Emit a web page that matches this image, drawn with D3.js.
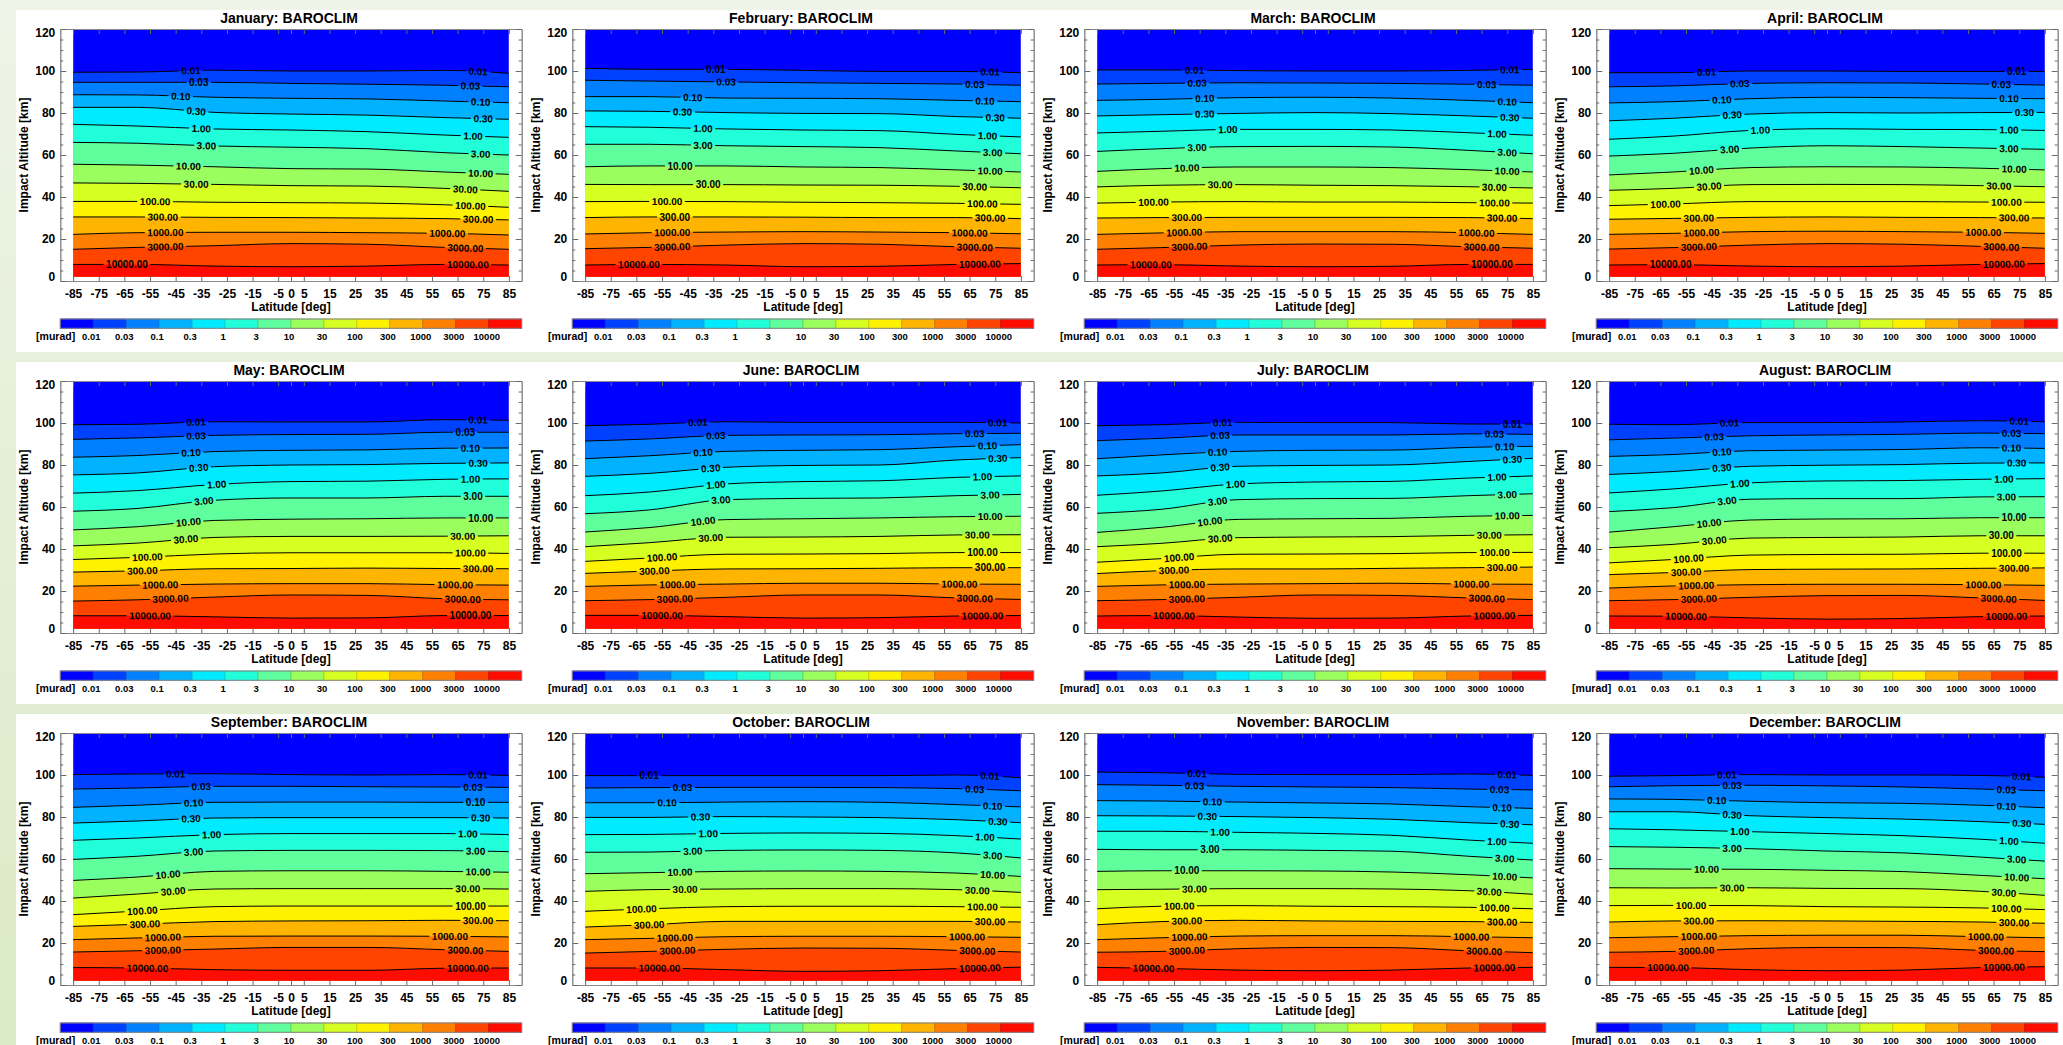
<!DOCTYPE html>
<html><head><meta charset="utf-8">
<script src="https://cdn.jsdelivr.net/npm/d3@7/dist/d3.min.js"></script>
<style>
html,body{margin:0;padding:0;}
body{width:2063px;height:1045px;overflow:hidden;background:linear-gradient(#eef4e7,#dbeac6);}
svg{display:block;font-family:"Liberation Sans",Arial,Helvetica,sans-serif;}
</style></head><body>
<svg id="chart" width="2063" height="1045"></svg>
<script>
// ---------------- data ----------------
const monthNames = ["January","February","March","April","May","June","July","August","September","October","November","December"];
const levelLabels = ["0.01","0.03","0.10","0.30","1.00","3.00","10.00","30.00","100.00","300.00","1000.00","3000.00","10000.00"];
const colorbarLabels = ["0.01","0.03","0.1","0.3","1","3","10","30","100","300","1000","3000","10000"];
const bandColors = ["#0000ff","#0040ff","#0080ff","#00b2ff","#00ebff","#20ffda","#5eff9c","#9aff5e","#d6ff22","#fff200","#ffb400","#ff8000","#ff4400","#ff0c00"];
const nodeLats = [-85,-60,-30,0,30,60,85];
const latTicks = [-85,-75,-65,-55,-45,-35,-25,-15,-5,0,5,15,25,35,45,55,65,75,85];
const latTickLabels = ["-85","-75","-65","-55","-45","-35","-25","-15","-5","0","5","15","25","35","45","55","65","75","85"];
const altTicks = [0,20,40,60,80,100,120];
const altTickLabels = ["0","20","40","60","80","100","120"];
const altMinorTicks = [5,10,15,25,30,35,45,50,55,65,70,75,85,90,95,105,110,115];

// contour altitudes [km] of each level (rows) at nodeLats (columns)
const altJan = [[99.4,99.5,100.4,100,100,100.3,98.9],[94.6,94.6,94.6,94.1,93.7,93.2,92.5],[88.7,88.6,87.5,87.0,86.7,85.7,84.9],[82.7,82.7,80.3,79.5,79.0,77.8,77.0],[74.6,73.8,72.4,71.9,71.1,69.5,68.4],[66.0,65.6,64.3,63.7,63.0,61.1,60.0],[55.6,55.2,54.4,53.5,53.3,51.9,50.8],[46.7,46.5,46.0,45.4,45.2,44.1,42.7],[37.9,37.9,37.5,37.3,37.1,36.3,35.1],[30.5,30.5,30.3,30.2,30.0,29.7,29.1],[22.2,23.0,23.2,23.2,23.0,22.7,21.9],[15.1,16.0,16.8,17.8,17.5,16.0,15.1],[7.9,7.9,7.1,6.8,7.1,7.9,7.6]];
const altFeb = [[101.3,100.8,100.8,100.3,99.8,99.8,99.2],[95.6,95.2,94.8,94.4,94.1,93.8,93.2],[87.8,87.8,87.1,87.0,86.8,86.0,85.4],[81.0,80.8,80.2,79.8,79.7,78.3,77.5],[73.5,73.2,72.4,71.9,71.6,69.8,68.6],[65.1,65.1,64.4,64.0,63.5,61.9,60.6],[54.4,54.8,54.8,54.3,54.0,52.9,51.9],[46.0,45.9,45.9,45.7,45.6,45.1,44.4],[37.8,37.9,37.8,37.5,37.3,37.0,36.5],[30.2,30.5,30.5,30.4,30.2,30.2,29.7],[22.4,23.0,23.3,23.5,23.3,23.0,22.5],[15.4,16.0,17.1,17.8,17.5,16.3,15.6],[7.6,7.9,7.6,6.8,7.0,7.9,8.3]];
const altMar = [[100.5,100.5,100.2,100.0,100.0,100.3,100.8],[93.8,94.1,94.4,94.3,94.1,93.7,93.2],[86.0,86.5,87.3,87.5,87.1,86.0,84.9],[78.6,79.2,79.8,80.2,79.7,78.6,77.5],[70.5,71.3,72.2,72.2,71.9,70.6,69.4],[61.7,63.0,64.0,64.1,63.8,62.2,60.6],[52.2,53.5,54.3,54.3,54.0,53.0,51.9],[44.8,45.6,45.9,45.6,45.4,44.9,44.3],[37.1,37.6,37.8,37.6,37.6,37.3,37.1],[30.0,30.2,30.3,30.3,30.3,30.2,29.7],[22.2,22.9,23.5,23.5,23.5,23.0,22.2],[15.1,15.9,17.1,17.6,17.5,16.3,15.6],[7.6,7.8,7.1,6.8,7.0,7.9,7.9]];
const altApr = [[99.2,99.2,100.0,100.0,99.8,99.8,99.8],[92.5,92.9,94.1,94.4,94.3,93.8,93.3],[84.8,85.4,86.8,87.5,87.3,87.0,86.8],[76.3,77.5,79.5,80.2,80.0,80.2,80.3],[67.5,69.0,71.7,72.5,72.2,72.1,71.7],[59.5,60.8,63.3,64.4,64.0,63.3,62.7],[50.5,51.9,54.0,54.4,54.3,53.7,52.9],[43.2,44.1,45.9,46.0,45.9,45.4,44.9],[35.9,36.7,37.8,37.8,37.8,37.6,37.5],[29.4,29.8,30.3,30.5,30.3,30.2,30.0],[22.2,22.7,23.5,23.7,23.5,23.2,22.7],[15.2,15.9,17.1,17.8,17.5,16.5,15.6],[7.6,7.8,7.1,6.8,7.1,7.9,8.3]];
const altMay = [[99.2,99.4,100.6,100.5,100.5,101.6,101.3],[92.2,92.9,94.1,94.5,94.6,95.6,95.6],[83.7,84.5,86.4,87.0,87.2,88.0,88.1],[75.3,76.2,79.2,80.0,80.2,80.8,81.0],[66.6,67.8,70.7,72.1,72.3,73.2,73.4],[58.0,59.3,63.2,64.3,64.3,65.1,65.1],[49.1,50.6,53.6,54.2,54.4,54.8,54.8],[41.5,42.8,45.5,46.0,46.0,46.1,46.3],[35.0,36.0,37.6,38.2,38.2,38.2,37.9],[29.0,29.6,30.6,30.7,30.9,30.7,30.6],[22.3,22.8,23.3,23.5,23.5,23.0,22.8],[15.2,15.8,17.1,18.1,17.9,16.3,15.8],[8.2,8.2,7.7,7.1,7.2,8.3,8.3]];
const altJun = [[98.7,99.4,100.6,100.3,100.3,100.3,100.0],[91.4,92.4,94.1,94.3,94.4,94.9,95.1],[83.0,84.4,86.5,87.0,87.3,88.7,89.7],[74.6,76.0,78.9,79.8,80.0,82.4,83.5],[65.4,67.1,71.0,72.1,72.5,74.1,74.8],[56.8,58.6,63.5,64.1,64.3,65.4,66.0],[48.1,50.2,54.0,54.4,54.8,55.4,55.6],[41.1,43.0,45.6,45.7,46.0,46.7,46.8],[34.1,35.7,37.5,37.6,37.8,38.3,38.3],[28.4,29.5,30.5,30.6,30.8,31.1,31.1],[22.2,22.9,23.3,23.7,23.7,23.3,23.2],[15.4,15.9,17.0,18.1,18.1,16.7,16.0],[8.4,8.4,7.8,7.1,7.3,8.1,8.3]];
const altJul = [[98.7,99.2,100.3,100.2,100.2,99.5,99.5],[91.6,92.7,94.3,94.3,94.3,94.8,94.6],[83.0,84.8,86.5,87.0,87.1,88.4,88.9],[74.8,76.2,79.4,79.8,80.0,81.7,83.2],[65.6,67.6,71.0,71.9,72.2,73.8,74.8],[57.0,58.9,63.5,64.0,64.1,65.4,66.3],[47.9,50.3,54.1,54.4,54.6,55.6,56.0],[41.1,42.7,45.4,45.7,45.9,46.5,46.8],[33.7,35.4,37.5,37.6,37.8,38.3,38.4],[28.3,29.7,30.5,30.5,30.8,31.1,31.4],[22.2,22.9,23.3,23.5,23.7,23.3,23.2],[15.4,15.9,17.0,18.1,17.9,16.7,15.9],[8.1,8.3,7.6,7.0,7.1,8.1,8.4]];
const altAug = [[99.4,99.2,100.2,100.2,100.5,101.1,100.6],[92.0,92.8,93.9,94.3,94.6,95.2,94.9],[84.1,85.0,86.8,87.1,87.4,88.2,87.9],[75.5,76.9,79.4,79.9,80.2,80.9,81.0],[66.7,68.6,71.5,72.4,72.6,73.2,73.5],[57.8,59.7,63.7,64.0,64.0,64.8,64.9],[48.0,50.6,53.8,54.3,54.4,54.9,54.9],[40.6,42.2,45.2,45.5,45.7,46.3,46.3],[33.4,35.0,37.1,37.4,37.5,38.0,38.0],[27.8,28.8,30.2,30.4,30.5,30.8,31.0],[21.4,22.4,23.0,23.2,23.2,23.0,22.7],[15.4,15.9,17.0,17.8,17.9,16.7,15.5],[8.1,8.0,7.2,6.6,6.9,7.8,8.1]];
const altSep = [[100.2,100.5,100.6,100.2,100.0,100.2,99.8],[93.3,93.8,94.6,94.6,94.4,94.3,94.1],[84.6,85.6,87.0,87.1,87.1,87.0,87.0],[77.1,78.1,79.5,79.7,79.7,79.7,79.5],[68.9,70.0,71.6,72.1,72.1,72.1,71.6],[59.8,61.3,63.8,64.1,64.1,64.0,63.5],[49.8,51.4,54.1,54.4,54.4,54.1,53.7],[41.4,43.3,45.7,45.9,45.9,45.9,45.7],[33.5,35.2,37.3,37.6,37.6,37.6,37.6],[27.9,28.9,30.2,30.5,30.6,30.8,30.6],[21.6,22.4,23.2,23.3,23.3,23.2,22.9],[15.7,16.3,17.1,17.9,17.9,16.8,16.0],[8.3,8.1,7.3,7.0,7.0,8.0,8.1]];
const altOct = [[99.7,99.7,99.7,99.7,99.7,100.0,98.7],[93.8,94.0,94.1,94.1,94.0,93.5,92.5],[86.8,86.8,87.1,87.3,87.0,85.9,84.8],[79.8,79.8,80.2,80.0,79.7,78.7,77.3],[71.6,71.7,72.2,72.4,72.2,71.1,69.5],[63.2,63.3,64.1,64.3,64.1,62.9,60.5],[53.0,53.5,54.1,54.3,54.1,53.3,51.7],[44.6,45.4,45.7,45.9,45.9,45.4,44.1],[35.1,36.3,37.3,37.5,37.5,37.3,37.0],[27.6,28.7,30.3,30.3,30.3,30.3,30.0],[21.6,22.2,23.0,23.2,23.2,23.0,22.7],[15.2,16.0,17.0,17.6,17.5,16.5,15.7],[8.1,8.1,7.3,6.5,6.8,7.8,8.5]];
const altNov = [[101.4,101.1,100.3,100.2,100.2,100.5,99.8],[95.4,95.1,94.6,94.3,94.0,93.3,92.9],[87.8,87.6,87.1,86.7,86.2,84.9,84.1],[80.6,80.5,80.2,79.7,78.9,77.3,76.3],[73.2,73.2,72.7,72.2,71.3,69.0,67.5],[64.6,64.4,64.4,64.1,63.7,61.3,59.5],[54.1,54.4,54.4,54.3,53.8,52.5,51.0],[45.4,45.6,45.9,45.9,45.7,44.9,43.2],[36.3,37.5,37.8,37.5,37.3,37.0,36.3],[28.7,30.2,30.8,30.5,30.3,30.2,29.8],[21.6,22.5,23.3,23.5,23.5,23.0,22.5],[15.6,16.0,17.3,17.9,17.8,16.3,15.4],[8.4,7.9,7.1,6.8,7.1,8.1,8.4]];
const altDec = [[99.4,99.7,100.2,100.0,100.0,99.8,98.9],[94.4,94.9,95.1,94.8,94.3,93.3,92.5],[88.6,88.4,87.5,86.8,86.5,85.6,84.4],[82.5,82.5,80.6,79.7,79.0,77.8,76.5],[74.4,73.9,73.0,72.1,71.1,69.4,67.5],[65.9,65.6,64.9,63.8,62.9,60.9,59.0],[55.4,55.2,55.1,54.6,54.0,52.2,50.6],[46.3,46.2,46.3,46.0,45.9,44.6,42.7],[37.8,37.9,37.8,37.3,37.1,36.7,35.9],[30.0,30.5,30.6,30.5,30.3,30.0,29.4],[22.5,23.0,23.5,23.7,23.7,23.0,22.5],[15.6,16.0,17.3,17.9,17.8,16.5,15.9],[8.4,8.3,7.3,6.8,7.1,8.3,8.7]];

// latitudes of the two contour labels on each level
const labLeftJan = [-39,-36,-43,-37,-35,-33,-40,-37,-53,-50,-49,-49,-64];
const labRightJan = [73,70,74,75,71,74,74,68,70,73,61,68,69];
const labLeftFeb = [-34,-30,-43,-47,-39,-39,-48,-37,-53,-50,-51,-51,-64];
const labRightFeb = [73,67,71,75,72,74,73,67,70,73,65,67,69];
const labLeftMar = [-47,-46,-43,-43,-34,-46,-50,-37,-63,-50,-51,-49,-64];
const labRightMar = [76,67,75,76,71,75,75,70,70,73,63,65,69];
const labLeftApr = [-47,-34,-41,-37,-26,-38,-49,-46,-63,-50,-49,-50,-61];
const labRightApr = [74,68,71,77,71,71,73,67,70,73,61,68,69];
const labLeftMay = [-37,-37,-39,-36,-29,-34,-40,-41,-56,-58,-51,-47,-55];
const labRightMay = [73,68,70,73,70,71,74,67,70,73,64,67,70];
const labLeftJun = [-41,-34,-39,-36,-34,-32,-39,-36,-55,-58,-49,-50,-55];
const labRightJun = [76,67,72,76,70,73,73,68,70,73,61,67,70];
const labLeftJul = [-36,-37,-38,-37,-31,-38,-41,-37,-53,-55,-50,-50,-55];
const labRightJul = [77,70,74,77,71,75,75,68,70,73,61,67,70];
const labLeftAug = [-38,-44,-41,-41,-34,-39,-46,-44,-54,-55,-51,-50,-55];
const labRightAug = [75,72,72,74,69,70,73,68,70,73,61,67,70];
const labLeftSep = [-45,-35,-38,-39,-31,-38,-48,-46,-58,-57,-50,-50,-56];
const labRightSep = [73,71,72,74,69,72,73,69,70,73,62,68,69];
const labLeftOct = [-60,-47,-53,-40,-37,-43,-48,-46,-63,-60,-50,-49,-56];
const labRightOct = [73,67,74,76,71,74,74,68,70,73,64,68,69];
const labLeftNov = [-46,-47,-40,-42,-37,-41,-50,-47,-53,-50,-49,-50,-63];
const labRightNov = [75,72,73,76,71,74,74,68,70,73,61,66,70];
const labLeftDec = [-39,-37,-43,-37,-34,-37,-47,-37,-53,-50,-50,-51,-62];
const labRightDec = [76,70,70,76,71,74,74,69,70,73,62,66,69];

const monthAlts = [altJan,altFeb,altMar,altApr,altMay,altJun,altJul,altAug,altSep,altOct,altNov,altDec];
const monthLabLeft = [labLeftJan,labLeftFeb,labLeftMar,labLeftApr,labLeftMay,labLeftJun,labLeftJul,labLeftAug,labLeftSep,labLeftOct,labLeftNov,labLeftDec];
const monthLabRight = [labRightJan,labRightFeb,labRightMar,labRightApr,labRightMay,labRightJun,labRightJul,labRightAug,labRightSep,labRightOct,labRightNov,labRightDec];

// ---------------- drawing ----------------
const svg = d3.select('#chart');
const defs = svg.append('defs');
const colStep = 512, rowStep = 352;
const x = d3.scaleLinear().domain([-90, 90]).range([60.3, 521.7]);
const y = d3.scaleLinear().domain([0, 120]).range([281, 29]);
const cb = d3.scaleLinear().domain([0, bandColors.length]).range([60.3, 521.7]);
const dataLat = [-85, 85], dataAlt = [2, 120];
const FONT = '"Liberation Sans",Arial,Helvetica,sans-serif';
const latFmt = d => latTickLabels[latTicks.indexOf(d)];
const altFmt = d => altTickLabels[altTicks.indexOf(d)];

[0,1,2].forEach(r => {
  svg.append('rect').attr('x', 16).attr('y', 10 + r*rowStep).attr('width', 2063-16).attr('height', 342).attr('fill', '#ffffff');
});

const lineGen = d3.line().x(d => x(d[0])).y(d => y(d[1])).curve(d3.curveMonotoneX);
const areaGen = d3.area().x(d => x(d[0])).y0(y(0)).y1(d => y(d[1])).curve(d3.curveMonotoneX);

monthNames.forEach((name, i) => {
  const r = Math.floor(i/4), c = i % 4;
  const g = svg.append('g').attr('transform', `translate(${c*colStep},${r*rowStep})`);
  const clipId = 'clip' + i;
  defs.append('clipPath').attr('id', clipId).append('rect')
    .attr('x', x(dataLat[0])).attr('y', y(dataAlt[1]))
    .attr('width', x(dataLat[1]) - x(dataLat[0])).attr('height', y(dataAlt[0]) - y(dataAlt[1]));
  const plot = g.append('g').attr('clip-path', `url(#${clipId})`);
  plot.append('rect').attr('x', x(dataLat[0])).attr('y', y(dataAlt[1]))
    .attr('width', x(dataLat[1]) - x(dataLat[0])).attr('height', y(dataAlt[0]) - y(dataAlt[1]))
    .attr('fill', bandColors[0]);
  const alts = monthAlts[i];
  alts.forEach((row, k) => {
    const pts = nodeLats.map((lat, j) => [lat, row[j]]);
    plot.append('path').attr('d', areaGen(pts)).attr('fill', bandColors[k+1]);
  });
  const maskId = 'mask' + i;
  const mask = defs.append('mask').attr('id', maskId).attr('maskUnits', 'userSpaceOnUse')
    .attr('x', 0).attr('y', 0).attr('width', 540).attr('height', 320);
  mask.append('rect').attr('x', 0).attr('y', 0).attr('width', 540).attr('height', 320).attr('fill', '#fff');
  const lineG = plot.append('g').attr('mask', `url(#${maskId})`);
  const labG = plot.append('g');
  alts.forEach((row, k) => {
    const pts = nodeLats.map((lat, j) => [lat, row[j]]);
    const p = lineG.append('path').attr('d', lineGen(pts)).attr('fill', 'none')
      .attr('stroke', '#000').attr('stroke-width', 1);
    const node = p.node();
    const total = node.getTotalLength();
    [monthLabLeft[i][k], monthLabRight[i][k]].forEach(lat => {
      const px = x(lat);
      let lo = 0, hi = total;
      for (let it = 0; it < 30; it++) {
        const mid = (lo + hi) / 2;
        if (node.getPointAtLength(mid).x < px) lo = mid; else hi = mid;
      }
      const pt = node.getPointAtLength(lo);
      const a = node.getPointAtLength(Math.max(0, lo - 8));
      const b = node.getPointAtLength(Math.min(total, lo + 8));
      const ang = Math.atan2(b.y - a.y, b.x - a.x) * 180 / Math.PI;
      const tr = `translate(${pt.x},${pt.y}) rotate(${ang})`;
      const t = labG.append('text').attr('transform', tr).attr('text-anchor', 'middle').attr('dy', '0.36em')
        .style('font-family', FONT).style('font-size', '10px').style('font-weight', 'bold').attr('fill', '#000')
        .text(levelLabels[k]);
      const tw = t.node().getComputedTextLength();
      mask.append('rect').attr('transform', tr).attr('x', -tw/2 - 2.5).attr('y', -4).attr('width', tw + 5).attr('height', 8).attr('fill', '#000');
    });
  });

  // axes
  const styleAxis = sel => {
    sel.attr('font-family', FONT).attr('font-size', 12).attr('font-weight', 'bold');
    sel.selectAll('.domain').attr('stroke', '#8a8a8a');
    sel.selectAll('.tick line').attr('stroke', '#6a6a6a');
    sel.selectAll('.tick text').attr('fill', '#000');
  };
  g.append('g').attr('transform', `translate(0,${y(0)})`)
    .call(d3.axisBottom(x).tickValues(latTicks).tickSize(-5).tickSizeOuter(0).tickPadding(8).tickFormat(latFmt))
    .call(styleAxis);
  g.append('g').attr('transform', `translate(0,${y(120)})`)
    .call(d3.axisTop(x).tickValues(latTicks).tickSize(-5).tickSizeOuter(0).tickFormat(''))
    .call(styleAxis);
  const yl = g.append('g').attr('transform', `translate(${x(-90)},0)`)
    .call(d3.axisLeft(y).tickValues(altTicks).tickSize(-6).tickSizeOuter(0).tickPadding(5).tickFormat(altFmt))
    .call(styleAxis);
  yl.selectAll('.tick text').attr('dy', d => d === 0 ? '-0.02em' : (d === 120 ? '0.66em' : '0.32em'));
  g.append('g').attr('transform', `translate(${x(-90)},0)`)
    .call(d3.axisLeft(y).tickValues(altMinorTicks).tickSize(-3).tickSizeOuter(0).tickFormat(''))
    .call(styleAxis);
  g.append('g').attr('transform', `translate(${x(90)},0)`)
    .call(d3.axisRight(y).tickValues(altTicks).tickSize(-6).tickSizeOuter(0).tickFormat(''))
    .call(styleAxis);
  g.append('g').attr('transform', `translate(${x(90)},0)`)
    .call(d3.axisRight(y).tickValues(altMinorTicks).tickSize(-3).tickSizeOuter(0).tickFormat(''))
    .call(styleAxis);

  // titles
  g.append('text').attr('x', 289).attr('y', 22.5).attr('text-anchor', 'middle')
    .style('font-family', FONT).style('font-size', '14px').style('font-weight', 'bold').text(name + ': BAROCLIM');
  g.append('text').attr('transform', `translate(24,${(y(0)+y(120))/2}) rotate(-90)`).attr('text-anchor', 'middle').attr('dy', '0.35em')
    .style('font-family', FONT).style('font-size', '12px').style('font-weight', 'bold').text('Impact Altitude [km]');
  g.append('text').attr('x', x(0)).attr('y', 310.5).attr('text-anchor', 'middle')
    .style('font-family', FONT).style('font-size', '12px').style('font-weight', 'bold').text('Latitude [deg]');

  // colorbar
  const cbY = 319, cbH = 9.3;
  bandColors.forEach((col, k) => {
    g.append('rect').attr('x', cb(k)).attr('y', cbY).attr('width', cb(k+1) - cb(k)).attr('height', cbH)
      .attr('fill', col).attr('stroke', d3.color(col).darker(0.6)).attr('stroke-width', 0.8);
  });
  g.append('rect').attr('x', cb(0)).attr('y', cbY).attr('width', cb(bandColors.length) - cb(0)).attr('height', cbH)
    .attr('fill', 'none').attr('stroke', '#8a8a8a').attr('stroke-width', 1);
  colorbarLabels.forEach((lab, k) => {
    g.append('text').attr('x', cb(k+1) - 2).attr('y', 339.5).attr('text-anchor', 'middle')
      .style('font-family', FONT).style('font-size', '9.5px').style('font-weight', 'bold').text(lab);
  });
  g.append('text').attr('x', 55.6).attr('y', 339.8).attr('text-anchor', 'middle')
    .style('font-family', FONT).style('font-size', '10.5px').style('font-weight', 'bold').text('[murad]');
});
</script>
</body></html>
